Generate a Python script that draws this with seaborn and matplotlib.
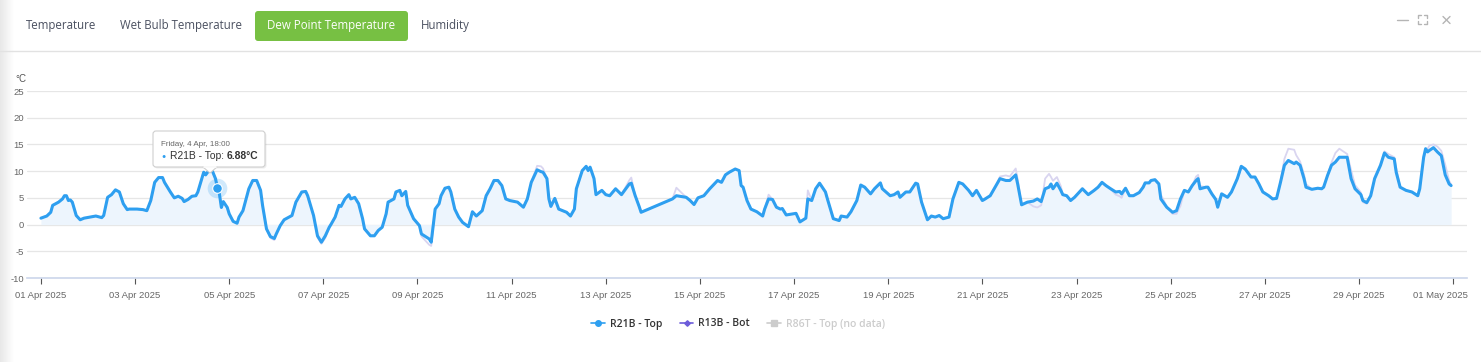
import numpy as np
import pandas as pd
import matplotlib
matplotlib.use("Agg")
import matplotlib.pyplot as plt
import matplotlib.transforms as mtransforms
from matplotlib.patches import FancyBboxPatch, Polygon
from matplotlib.lines import Line2D
from matplotlib.colors import LinearSegmentedColormap
import seaborn as sns

# ---------------- data ----------------
start_date = "2025-04-01"
hours = [
    0, 3, 5, 6, 9, 11, 12, 13, 14, 15,
    16, 18, 20, 22, 25, 28, 31, 32, 34, 36,
    38, 40, 42, 44, 45, 49, 52, 54, 56, 58,
    60, 62, 63, 66, 68, 70, 72, 73, 75, 77,
    79, 80, 83, 84, 85, 87, 89, 90, 91, 92,
    93, 95, 96, 98, 100, 101, 103, 106, 108, 110,
    112, 113, 115, 117, 119, 120, 122, 124, 126, 128,
    130, 133, 135, 136, 139, 141, 143, 145, 147, 148,
    150, 152, 153, 155, 157, 158, 160, 162, 164, 165,
    168, 170, 172, 174, 176, 177, 180, 181, 183, 184,
    186, 187, 190, 193, 194, 198,
    199, 201, 203, 204, 206, 208, 209, 211, 213, 215,
    218, 220, 222, 225, 227, 229, 231, 233, 235, 237,
    239, 243, 246, 248, 250, 253, 255, 256, 258, 259,
    260, 262, 264, 266, 268, 270, 272, 273, 276, 278,
    279, 280, 282, 283, 286, 288, 290, 293, 296, 300,
    301, 303, 305, 306, 322, 324, 329, 331, 333, 335,
    338, 341, 345, 347, 349, 351, 354, 356, 357, 358,
    360, 362, 365, 368, 369, 371, 373, 375, 377, 378,
    380, 385,
    387, 390, 391, 393, 395, 397, 400, 401, 404, 407,
    408, 411, 413, 416, 418, 420, 423, 425, 428, 429,
    433, 435, 437, 438, 441, 443, 446, 447, 449, 452,
    454, 456, 458, 460, 463, 465, 468, 470, 473, 475,
    477, 480, 481, 484, 487, 489, 492, 494, 497, 498,
    500, 503, 506, 508, 510, 512, 514, 515, 516, 518,
    520, 521, 523, 525, 527, 531, 534, 537, 539, 541,
    543, 545, 548, 550, 551, 553, 555, 557,
    560, 562, 563, 565, 566, 568, 570, 571, 574, 577,
    579, 581, 583, 585, 587, 589, 590, 591, 594, 595,
    597, 599, 600, 602, 605, 607, 610, 612, 614, 617,
    619, 621, 623, 626, 628, 630, 632, 634, 636, 639,
    640, 642, 644, 645, 648, 651, 653, 654, 656, 658,
    660, 662, 666, 668, 670, 673, 674, 676, 678, 680,
    683, 685, 687, 690, 691, 693, 696, 699, 702, 703,
    705, 706, 707, 708, 710, 712, 714, 716, 718, 719,
]

r21b_top = [
    1.2, 1.6, 2.3, 3.6, 4.2, 4.8, 5.4, 5.4, 4.5, 4.6,
    4.2, 1.7, 0.9, 1.2, 1.4, 1.6, 1.3, 1.7, 5.1, 5.6,
    6.5, 6.1, 3.9, 2.8, 2.9, 2.9, 2.8, 2.6, 4.5, 7.9,
    8.8, 8.8, 7.9, 6.1, 5.0, 5.3, 4.9, 4.3, 4.7, 5.3,
    5.4, 6.1, 9.8, 9.3, 9.8, 10.4, 8.6, 6.88, 5.75, 3.2,
    4.3, 3.2, 2.0, 0.6, 0.25, 1.4, 2.6, 6.7, 8.25, 8.25,
    6.4, 3.6, -0.8, -2.25, -2.6, -1.75, -0.2, 0.9, 1.3, 1.7,
    4.2, 6.1, 6.2, 5.4, 1.7, -2.1, -3.3, -2.1, -0.5, 0.1,
    1.4, 3.6, 3.4, 4.8, 5.6, 4.8, 5.1, 3.9, 1.1, -0.8,
    -2.1, -2.1, -1.1, -0.5, 2.0, 4.2, 4.8, 6.1, 6.4, 5.4,
    6.2, 3.6, 1.1, -0.2, -1.75, -2.7,
    -3.3, 2.9, 3.9, 5.4, 6.8, 7.0, 6.1, 2.9, 1.4, 0.4,
    -0.4, 2.4, 1.6, 2.6, 5.4, 6.7, 8.25, 8.25, 7.3, 4.8,
    4.5, 4.2, 3.25, 4.8, 7.9, 10.25, 9.9, 9.8, 8.6, 4.8,
    3.4, 4.9, 2.9, 2.6, 2.3, 1.6, 2.9, 6.7, 10.1, 10.9,
    10.1, 10.75, 8.6, 5.6, 6.4, 5.6, 5.4, 6.7, 5.6, 7.6,
    7.75, 5.4, 3.4, 2.3, 4.8, 5.4, 5.1, 4.5, 3.75, 5.0,
    5.4, 6.7, 8.25, 7.9, 9.3, 9.8, 10.4, 10.1, 7.3, 7.0,
    4.5, 2.9, 2.4, 1.6, 2.9, 4.8, 4.7, 3.25, 2.9, 3.0,
    1.8, 2.1,
    0.5, 1.2, 4.8, 4.5, 6.7, 7.75, 6.1, 4.8, 1.1, 0.75,
    1.6, 1.4, 2.4, 4.5, 7.4, 7.0, 5.75, 6.7, 7.8, 6.7,
    5.4, 5.6, 6.1, 5.1, 6.1, 6.1, 7.75, 7.6, 4.2, 0.9,
    1.6, 1.4, 1.7, 1.1, 1.4, 4.8, 7.9, 7.6, 6.4, 5.4,
    6.4, 4.5, 4.7, 5.4, 7.3, 8.6, 8.25, 8.25, 9.3, 7.6,
    3.7, 4.2, 4.4, 4.8, 4.3, 6.7, 7.0, 7.6, 6.7, 7.75,
    6.4, 5.6, 5.4, 4.5, 5.1, 6.7, 5.6, 6.4, 7.0, 7.9,
    7.3, 6.8, 6.1, 6.2, 5.75, 6.8, 5.4, 5.4,
    6.0, 7.0, 7.8, 7.8, 8.25, 8.4, 7.6, 4.8, 3.25, 2.3,
    2.6, 4.8, 6.4, 6.1, 7.3, 8.25, 8.6, 6.7, 7.0, 7.0,
    5.75, 4.7, 3.25, 5.75, 5.1, 6.1, 8.6, 10.9, 10.4, 8.9,
    8.9, 7.6, 6.1, 5.4, 4.8, 4.9, 7.9, 11.1, 12.0, 11.4,
    11.7, 11.1, 8.6, 7.0, 6.6, 6.8, 6.7, 7.0, 9.2, 11.1,
    11.7, 12.6, 12.6, 8.6, 6.7, 5.6, 4.5, 4.1, 5.4, 8.6,
    11.1, 13.4, 12.6, 12.3, 9.8, 7.0, 6.4, 6.1, 5.4, 6.7,
    12.6, 14.2, 13.6, 13.9, 14.4, 13.6, 12.9, 9.3, 7.6, 7.3,
]

r13b_bot = [
    1.2, 1.6, 2.3, 3.6, 4.2, 4.8, 5.4, 5.4, 4.5, 4.6,
    4.2, 1.7, 0.9, 1.2, 1.4, 1.6, 1.3, 1.7, 5.1, 5.6,
    6.5, 6.1, 3.9, 2.8, 2.9, 2.9, 2.8, 2.6, 4.5, 7.9,
    8.8, 8.8, 7.9, 6.1, 5.0, 5.3, 4.9, 4.3, 4.7, 5.3,
    5.4, 6.1, 9.8, 9.3, 9.8, 10.6, 8.6, 6.9, 5.75, 3.2,
    4.3, 3.2, 2.0, 0.6, 0.25, 1.4, 2.6, 6.7, 8.25, 8.25,
    6.4, 3.6, -0.8, -2.5, -2.9, -1.75, -0.2, 0.9, 1.3, 1.7,
    4.2, 6.1, 6.2, 5.4, 1.7, -2.4, -3.6, -2.5, -0.5, 0.1,
    1.4, 3.6, 3.4, 4.8, 5.6, 4.8, 5.1, 3.9, 1.1, -0.8,
    -2.1, -2.1, -1.1, -0.5, 2.0, 4.2, 4.8, 6.1, 6.4, 5.4,
    6.2, 3.6, 1.1, -0.2, -2.2, -3.8,
    -4.0, 2.9, 3.9, 5.4, 6.8, 7.0, 6.1, 2.9, 1.4, 0.4,
    -0.4, 2.4, 1.6, 2.6, 5.4, 6.7, 8.25, 8.25, 7.3, 4.8,
    4.5, 4.2, 3.25, 4.8, 7.9, 11.0, 10.9, 10.5, 8.6, 4.8,
    3.4, 4.9, 2.9, 2.6, 2.3, 1.6, 2.9, 6.7, 10.1, 10.9,
    10.1, 10.75, 8.6, 5.6, 6.4, 5.6, 5.4, 6.7, 5.6, 8.3,
    8.8, 5.4, 3.4, 2.3, 4.8, 6.9, 5.1, 4.5, 3.75, 5.0,
    5.4, 6.7, 8.25, 7.9, 9.3, 9.8, 10.4, 10.1, 7.3, 7.0,
    4.5, 2.9, 2.4, 1.6, 2.9, 5.6, 4.7, 3.25, 2.9, 3.0,
    1.8, 2.1,
    0.5, 1.2, 6.4, 4.5, 6.7, 7.75, 6.1, 4.8, 1.1, 0.75,
    1.6, 1.4, 2.4, 4.5, 7.4, 7.0, 5.75, 6.7, 7.8, 6.7,
    5.4, 5.6, 6.1, 5.1, 6.1, 6.1, 7.75, 7.6, 4.2, 0.9,
    1.6, 1.4, 1.7, 1.1, 1.4, 4.8, 7.9, 7.6, 6.4, 5.4,
    6.4, 4.5, 4.7, 5.4, 7.3, 9.0, 9.2, 9.0, 10.5, 8.5,
    3.7, 4.2, 3.4, 3.2, 3.6, 8.6, 9.5, 8.9, 8.2, 8.9,
    7.2, 5.6, 5.4, 4.5, 5.1, 6.7, 5.6, 6.4, 7.0, 7.9,
    7.3, 6.8, 5.6, 5.3, 5.0, 6.8, 5.4, 5.4,
    6.0, 7.3, 7.8, 7.8, 8.25, 8.4, 7.6, 5.6, 3.4, 2.0,
    2.0, 3.5, 6.4, 6.1, 7.3, 9.0, 9.3, 7.2, 7.0, 7.0,
    5.75, 4.7, 3.25, 5.75, 5.1, 6.1, 8.6, 10.6, 10.4, 8.9,
    8.9, 7.6, 6.1, 5.4, 4.8, 4.9, 7.9, 12.3, 14.2, 14.0,
    13.0, 11.8, 9.4, 7.6, 6.6, 6.8, 6.7, 7.0, 9.2, 11.6,
    13.4, 14.2, 13.2, 10.2, 7.4, 6.0, 4.2, 3.9, 5.4, 8.6,
    11.1, 13.7, 13.2, 12.6, 10.6, 7.0, 6.4, 6.1, 5.4, 6.7,
    12.6, 13.6, 14.2, 14.8, 15.0, 14.6, 13.8, 11.2, 8.2, 7.5,
]

series_names = ["R21B - Top", "R13B - Bot", "R86T - Top (no data)"]
tab_labels = ["Temperature", "Wet Bulb Temperature", "Dew Point Temperature", "Humidity"]
active_tab = "Dew Point Temperature"
y_ticks = [-10, -5, 0, 5, 10, 15, 20, 25]
y_unit = "°C"
hover_hour = 90

# ---------------- style ----------------
sns.set_theme(style="white")
plt.rcParams["font.family"] = ["Liberation Sans", "DejaVu Sans"]

BLUE = "#2E9FF0"
LAVENDER = "#D9D5F0"
PURPLE = "#6C5CDA"
FILL = "#EDF5FD"

W, H = 1481, 362
fig = plt.figure(figsize=(W / 100, H / 100), dpi=100)
fig.patch.set_facecolor("white")
px = mtransforms.Affine2D().scale(1.0 / W, -1.0 / H).translate(0, 1) + fig.transFigure

# left panel shadow
gax = fig.add_axes([0, 0, 14 / W, 1], zorder=0)
cmap = LinearSegmentedColormap.from_list("shade", ["#e8e8e8", "#ffffff"])
gax.imshow(np.linspace(0, 1, 64)[None, :], cmap=cmap, aspect="auto", extent=[0, 1, 0, 1])
gax.axis("off")

# header
fig.add_artist(Line2D([0, W], [51, 51], transform=px, color="#e2e2e2", lw=1))
tab_centers = [61.5, 181.5, 331.5, 445]
for lab, cx in zip(tab_labels, tab_centers):
    if lab == active_tab:
        fig.add_artist(FancyBboxPatch((255, 11), 153, 30, boxstyle="round,pad=0,rounding_size=3",
                                      transform=px, fc="#77C043", ec="none"))
        col = "white"
    else:
        col = "#4a5060"
    fig.text(cx, 25, lab, transform=px, ha="center", va="center", fontsize=8.3,
             color=col, family=["Open Sans", "DejaVu Sans"])

# window icons
icol = "#b5b5b5"
fig.add_artist(Line2D([1397, 1408], [20, 20], transform=px, color=icol, lw=1))
for (x0, y0, dx, dy) in [(1418, 15, 1, 1), (1427, 15, -1, 1), (1418, 24, 1, -1), (1427, 24, -1, -1)]:
    fig.add_artist(Line2D([x0 + 3 * dx, x0, x0], [y0, y0, y0 + 3 * dy], transform=px, color=icol, lw=1))
fig.add_artist(Line2D([1443, 1450], [16.5, 23.5], transform=px, color=icol, lw=1))
fig.add_artist(Line2D([1443, 1450], [23.5, 16.5], transform=px, color=icol, lw=1))

# ---------------- chart ----------------
t0 = pd.Timestamp(start_date)
df = pd.DataFrame({
    "time": t0 + pd.to_timedelta(hours, unit="h"),
    "r21b": r21b_top,
    "r13b": r13b_bot,
})

ax = fig.add_axes([27 / W, 1 - 278 / H, (1467 - 27) / W, (278 - 91) / H], zorder=2)
ax.set_facecolor("none")
ax.fill_between(df["time"], df["r21b"], 0, color=FILL, lw=0, zorder=1)
sns.lineplot(data=df, x="time", y="r13b", ax=ax, color=LAVENDER, lw=1.3, estimator=None, zorder=2)
sns.lineplot(data=df, x="time", y="r21b", ax=ax, color=BLUE, lw=2.2, estimator=None, zorder=3)

ax.set_xlim(t0 - pd.Timedelta(hours=7.1), t0 + pd.Timedelta(hours=727.1))
ax.set_ylim(y_ticks[0], y_ticks[-1])
ax.set_yticks(y_ticks)
ax.set_yticklabels([str(v) for v in y_ticks])
ax.yaxis.grid(True, color="#e6e6e6", lw=0.9)
ax.xaxis.grid(False)
ax.set_axisbelow(True)
ax.set_xlabel("")
ax.set_ylabel("")
for s in ["top", "right", "left"]:
    ax.spines[s].set_visible(False)
ax.spines["bottom"].set_color("#ccd6eb")
ax.spines["bottom"].set_linewidth(1.2)

tick_dates = pd.date_range(t0, t0 + pd.Timedelta(days=30), freq="2D")
ax.set_xticks(tick_dates)
ax.set_xticklabels([d.strftime("%d %b %Y") for d in tick_dates])
ax.tick_params(axis="y", length=0, labelsize=6.8, labelcolor="#666666", pad=2)
ax.tick_params(axis="x", length=4, width=0.8, color="#555555", labelsize=6.8,
               labelcolor="#666666", pad=5, bottom=True)
last = ax.get_xticklabels()[-1]
last.set_transform(last.get_transform() + mtransforms.ScaledTranslation(-0.13, 0, fig.dpi_scale_trans))

fig.text(15, 79, y_unit, transform=px, fontsize=7, color="#555555", va="center")

# hovered point
hi = hours.index(hover_hour)
t_h = df["time"].iloc[hi]
v_h = r21b_top[hi]
ax.scatter([t_h], [v_h], s=200, color=BLUE, alpha=0.22, lw=0, zorder=4, clip_on=False)
ax.scatter([t_h], [v_h], s=48, color=BLUE, edgecolor="white", lw=0.8, zorder=5, clip_on=False)

# tooltip
fig.add_artist(FancyBboxPatch((154.5, 132.5), 112, 36, boxstyle="round,pad=0,rounding_size=3",
                              transform=px, fc="black", alpha=0.07, ec="none", zorder=10))
fig.add_artist(FancyBboxPatch((153, 131), 112, 36, boxstyle="round,pad=0,rounding_size=3",
                              transform=px, fc="white", ec="#cfcfcf", lw=0.8, zorder=11))
fig.add_artist(Polygon([(203, 167), (217, 167), (210, 173)], closed=True, transform=px,
                       fc="white", ec="#cfcfcf", lw=0.8, zorder=11))
fig.add_artist(Line2D([203.8, 216.2], [167, 167], transform=px, color="white", lw=1.2, zorder=12))
date_txt = f"{t_h:%A}, {t_h.day} {t_h:%b}, {t_h:%H:%M}"
fig.text(161, 144, date_txt, transform=px, fontsize=5.8, color="#666666", va="center", zorder=13)
fig.text(164, 156.5, "●", transform=px, fontsize=5, color=BLUE, va="center", ha="center", zorder=13)
t1 = fig.text(170, 156, f"{series_names[0]}: ", transform=px, fontsize=7.4, color="#333333",
              va="center", zorder=13)
fig.canvas.draw()
bb = t1.get_window_extent(renderer=fig.canvas.get_renderer())
fig.text(bb.x1 / W, 1 - 156 / H, f"{v_h:.2f}°C", fontsize=7.4, color="#333333",
         va="center", weight="bold", zorder=13)

# legend
handles = [
    Line2D([], [], color=BLUE, marker="o", markersize=4, lw=1.2),
    Line2D([], [], color=PURPLE, marker="D", markersize=2.8, lw=1.2),
    Line2D([], [], color="#cccccc", marker="s", markersize=4.5, lw=1.2),
]
leg = fig.legend(handles, series_names, loc="center", bbox_to_anchor=(738 / W, 1 - 324 / H),
                 ncol=3, frameon=False, handlelength=1.3, columnspacing=1.7, handletextpad=0.45,
                 prop={"family": ["Open Sans", "DejaVu Sans"], "size": 7.5, "weight": "semibold"})
for txt, c in zip(leg.get_texts(), ["#333333", "#333333", "#cccccc"]):
    txt.set_color(c)

fig.savefig("out.png", dpi=100, facecolor="white")
